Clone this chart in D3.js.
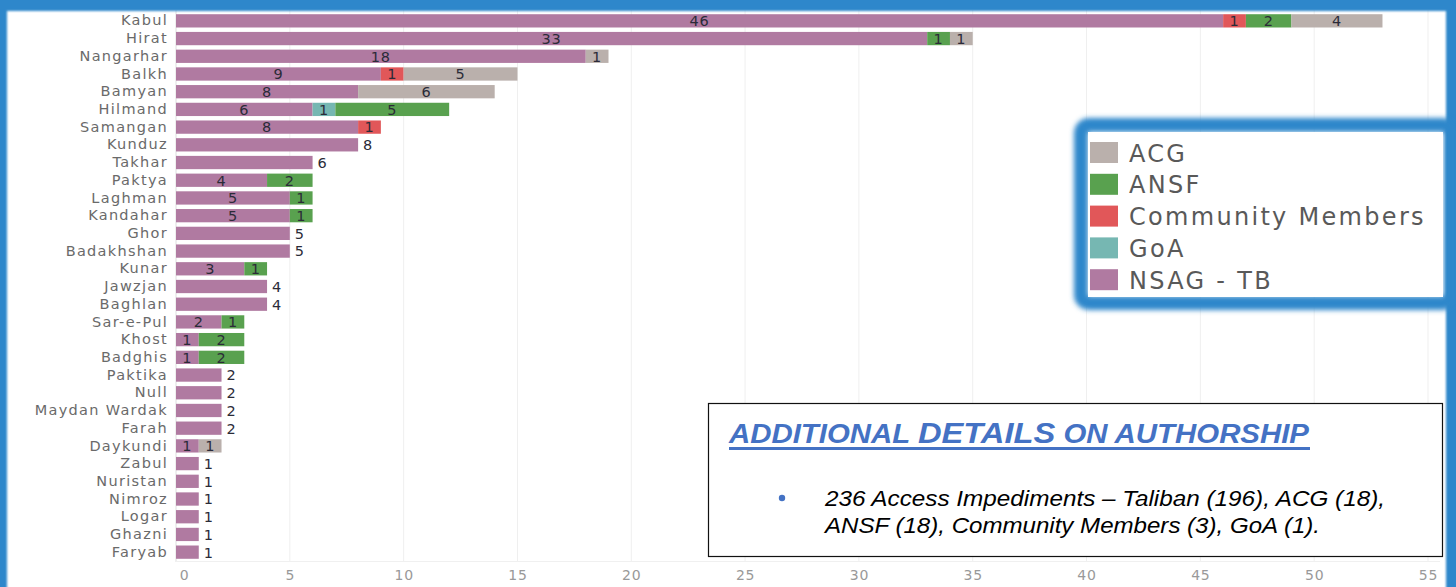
<!DOCTYPE html>
<html lang="en">
<head>
<meta charset="utf-8">
<title>Access Impediments by Province</title>
<script src="https://d3js.org/d3.v7.min.js"></script>
<style>
  body { margin: 0; background: #fff; }
  svg { display: block; font-family: "DejaVu Sans", sans-serif; }
</style>
</head>
<body>
<div id="chart"></div>
<script>
// data
const provinces = ["Kabul", "Hirat", "Nangarhar", "Balkh", "Bamyan", "Hilmand", "Samangan", "Kunduz",
  "Takhar", "Paktya", "Laghman", "Kandahar", "Ghor", "Badakhshan", "Kunar", "Jawzjan", "Baghlan",
  "Sar-e-Pul", "Khost", "Badghis", "Paktika", "Null", "Maydan Wardak", "Farah", "Daykundi",
  "Zabul", "Nuristan", "Nimroz", "Logar", "Ghazni", "Faryab"];
const nsagTB    = [46, 33, 18, 9, 8, 6, 8, 8, 6, 4, 5, 5, 5, 5, 3, 4, 4, 2, 1, 1, 2, 2, 2, 2, 1, 1, 1, 1, 1, 1, 1];
const goa       = [0, 0, 0, 0, 0, 1, 0, 0, 0, 0, 0, 0, 0, 0, 0, 0, 0, 0, 0, 0, 0, 0, 0, 0, 0, 0, 0, 0, 0, 0, 0];
const community = [1, 0, 0, 1, 0, 0, 1, 0, 0, 0, 0, 0, 0, 0, 0, 0, 0, 0, 0, 0, 0, 0, 0, 0, 0, 0, 0, 0, 0, 0, 0];
const ansf      = [2, 1, 0, 0, 0, 5, 0, 0, 0, 2, 1, 1, 0, 0, 1, 0, 0, 1, 2, 2, 0, 0, 0, 0, 0, 0, 0, 0, 0, 0, 0];
const acg       = [4, 1, 1, 5, 6, 0, 0, 0, 0, 0, 0, 0, 0, 0, 0, 0, 0, 0, 0, 0, 0, 0, 0, 0, 1, 0, 0, 0, 0, 0, 0];

const stackKeys = ["NSAG - TB", "GoA", "Community Members", "ANSF", "ACG"];
const legendKeys = ["ACG", "ANSF", "Community Members", "GoA", "NSAG - TB"];
const xTicks = [0, 5, 10, 15, 20, 25, 30, 35, 40, 45, 50, 55];

const noteTitle = ["ADDITIONAL ", "DETAILS", " ON AUTHORSHIP"];
const noteLines = ["236 Access Impediments \u2013 Taliban (196), ACG (18),",
  "ANSF (18), Community Members (3), GoA (1)."];

const colors = {
  "NSAG - TB": "#b07aa1",
  "GoA": "#76b7b2",
  "Community Members": "#e15759",
  "ANSF": "#59a14f",
  "ACG": "#bab0ac"
};

const width = 1456, height = 587;

const table = provinces.map((p, i) => ({
  province: p,
  "NSAG - TB": nsagTB[i],
  "GoA": goa[i],
  "Community Members": community[i],
  "ANSF": ansf[i],
  "ACG": acg[i]
}));

const series = d3.stack().keys(stackKeys)(table);

const svg = d3.select("#chart").append("svg")
  .attr("width", width)
  .attr("height", height);

const defs = svg.append("defs");
defs.append("filter").attr("id", "soft")
  .attr("x", "-5%").attr("y", "-5%").attr("width", "110%").attr("height", "110%")
  .append("feGaussianBlur").attr("stdDeviation", 1.3);
defs.append("filter").attr("id", "glow")
  .attr("x", "-10%").attr("y", "-10%").attr("width", "120%").attr("height", "120%")
  .append("feGaussianBlur").attr("stdDeviation", 2.4);

// scales
const x = d3.scaleLinear().domain([0, 55]).range([176, 1428]);
const y = d3.scaleBand().domain(provinces)
  .range([12, 561])
  .paddingInner(0.25)
  .paddingOuter(0.125);

// gridlines
svg.append("g").attr("class", "grid")
  .selectAll("line")
  .data(xTicks)
  .join("line")
  .attr("x1", d => x(d)).attr("x2", d => x(d))
  .attr("y1", 10).attr("y2", 562)
  .attr("stroke", d => d === 0 ? "#dedede" : "#efefef")
  .attr("stroke-width", 1);
svg.append("line")
  .attr("x1", 176).attr("x2", 1440)
  .attr("y1", 561.5).attr("y2", 561.5)
  .attr("stroke", "#f0f0f0");

// x axis
const xAxis = d3.axisBottom(x).tickValues(xTicks).tickSize(0).tickPadding(0);
svg.append("g")
  .attr("transform", "translate(0,570)")
  .call(xAxis)
  .call(g => g.select(".domain").remove())
  .call(g => g.selectAll("text")
    .attr("fill", "#999")
    .attr("font-size", 14)
    .attr("font-family", "DejaVu Sans, sans-serif")
    .attr("letter-spacing", 0.8)
    .attr("dx", d => d === 0 ? 8 : 0));

// y axis labels
const yAxis = d3.axisLeft(y).tickSize(0).tickPadding(8);
svg.append("g")
  .attr("transform", "translate(176,0)")
  .call(yAxis)
  .call(g => g.select(".domain").remove())
  .call(g => g.selectAll("text")
    .attr("fill", "#6a6a6a")
    .attr("font-size", 14.5)
    .attr("font-family", "DejaVu Sans, sans-serif")
    .attr("letter-spacing", 1.3));

// bars
svg.append("g").attr("class", "bars")
  .selectAll("g")
  .data(series)
  .join("g")
  .attr("fill", d => colors[d.key])
  .selectAll("rect")
  .data(d => d)
  .join("rect")
  .attr("x", d => x(d[0]))
  .attr("y", d => y(d.data.province))
  .attr("width", d => x(d[1]) - x(d[0]))
  .attr("height", y.bandwidth());

// segment labels
const segCount = d => stackKeys.filter(k => d[k] > 0).length;
const inner = [];
series.forEach(s => s.forEach(v => {
  if (v[1] - v[0] > 0 && segCount(v.data) > 1) inner.push(v);
}));
svg.append("g").attr("class", "inner-labels")
  .selectAll("text")
  .data(inner)
  .join("text")
  .attr("x", d => (x(d[0]) + x(d[1])) / 2)
  .attr("y", d => y(d.data.province) + y.bandwidth() / 2)
  .attr("dy", "0.37em")
  .attr("text-anchor", "middle")
  .attr("font-size", 14.5)
  .attr("fill", "#2b2b38")
  .attr("letter-spacing", 0.8)
  .text(d => d[1] - d[0]);

// total labels for single-segment bars
svg.append("g").attr("class", "outer-labels")
  .selectAll("text")
  .data(table.filter(d => segCount(d) === 1))
  .join("text")
  .attr("x", d => x(d3.sum(stackKeys, k => d[k])) + 5)
  .attr("y", d => y(d.province) + y.bandwidth() / 2)
  .attr("dy", "0.37em")
  .attr("font-size", 14.5)
  .attr("fill", "#2b2b38")
  .text(d => d3.sum(stackKeys, k => d[k]));

// outer blue frame
const frame = svg.append("g").attr("filter", "url(#soft)").attr("fill", "#2d87cb");
frame.append("rect").attr("x", -4).attr("y", -4).attr("width", width + 8).attr("height", 15);
frame.append("rect").attr("x", -4).attr("y", -4).attr("width", 11).attr("height", height + 8);
frame.append("rect").attr("x", 1446).attr("y", -4).attr("width", 14).attr("height", height + 8);

// legend
const legend = svg.append("g").attr("class", "legend");
legend.append("rect")
  .attr("x", 1081).attr("y", 125).attr("width", 370).attr("height", 178)
  .attr("rx", 8)
  .attr("fill", "none")
  .attr("stroke", "#2d87cb")
  .attr("stroke-width", 14)
  .attr("filter", "url(#glow)");
legend.append("rect")
  .attr("x", 1088).attr("y", 132).attr("width", 355).attr("height", 165)
  .attr("fill", "#fff");
const item = legend.selectAll("g.item")
  .data(legendKeys)
  .join("g")
  .attr("class", "item")
  .attr("transform", (d, i) => `translate(1090,${142 + i * 31.8})`);
item.append("rect")
  .attr("width", 28).attr("height", 21)
  .attr("fill", d => colors[d]);
item.append("text")
  .attr("x", 39).attr("y", 11)
  .attr("dy", "0.36em")
  .attr("font-size", 24)
  .attr("fill", "#595959")
  .attr("letter-spacing", 2.3)
  .text(d => d);

// note box
const note = svg.append("g").attr("class", "note");
note.append("rect")
  .attr("x", 708.5).attr("y", 403.5).attr("width", 734).attr("height", 153)
  .attr("fill", "#fff")
  .attr("stroke", "#111").attr("stroke-width", 1.2);
const title = note.append("text")
  .attr("x", 729).attr("y", 443)
  .attr("font-family", "Liberation Sans, Arial, sans-serif")
  .attr("font-weight", "bold").attr("font-style", "italic")
  .attr("fill", "#4472c4")
  .attr("textLength", 580).attr("lengthAdjust", "spacingAndGlyphs");
title.selectAll("tspan")
  .data(noteTitle)
  .join("tspan")
  .attr("font-size", (d, i) => i === 1 ? 30 : 27)
  .text(d => d);
note.append("rect")
  .attr("x", 729).attr("y", 447).attr("width", 581).attr("height", 3)
  .attr("fill", "#4472c4");
note.append("circle")
  .attr("cx", 782).attr("cy", 498).attr("r", 3.2)
  .attr("fill", "#4472c4");
note.selectAll("text.line")
  .data(noteLines)
  .join("text")
  .attr("class", "line")
  .attr("x", 825)
  .attr("y", (d, i) => 506 + i * 27)
  .attr("font-family", "Liberation Sans, Arial, sans-serif")
  .attr("font-style", "italic")
  .attr("font-size", 22)
  .attr("fill", "#000")
  .attr("textLength", (d, i) => i === 0 ? 560 : 495)
  .attr("lengthAdjust", "spacingAndGlyphs")
  .text(d => d);
</script>
</body>
</html>
